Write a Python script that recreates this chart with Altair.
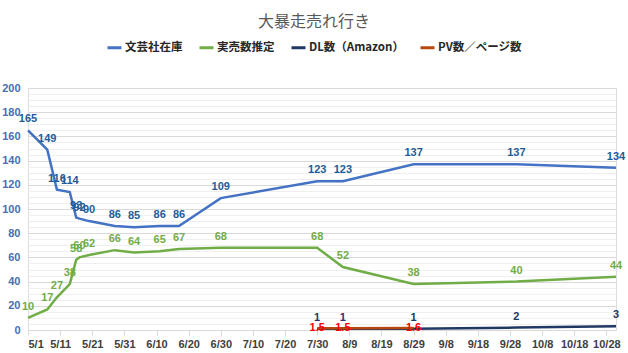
import altair as alt
import pandas as pd

# ---- data ----
dates_main = ["2019-05-01", "2019-05-07", "2019-05-10", "2019-05-14", "2019-05-16",
              "2019-05-17", "2019-05-20", "2019-05-28", "2019-06-03", "2019-06-11",
              "2019-06-17", "2019-06-30", "2019-07-30", "2019-08-07", "2019-08-29",
              "2019-09-30", "2019-10-31"]
stock = [165, 149, 116, 114, 93, 92, 90, 86, 85, 86, 86, 109, 123, 123, 137, 137, 134]
sales = [10, 17, 27, 38, 58, 60, 62, 66, 64, 65, 67, 68, 68, 52, 38, 40, 44]

dates_dl = ["2019-07-30", "2019-08-07", "2019-08-29", "2019-09-30", "2019-10-31"]
dl = [1, 1, 1, 2, 3]

dates_pv = ["2019-07-30", "2019-08-07", "2019-08-29"]
pv = [1.5, 1.5, 1.6]

series_names = ["文芸社在庫", "実売数推定", "DL数（Amazon）", "PV数／ページ数"]
line_colors = ["#4472C4", "#70AD47", "#203864", "#B5470F"]
label_colors = ["#1F5C99", "#70AD47", "#203864", "#FF0000"]

x_tick_days = [(5, 1), (5, 11), (5, 21), (5, 31), (6, 10), (6, 20), (6, 30), (7, 10),
               (7, 20), (7, 30), (8, 9), (8, 19), (8, 29), (9, 8), (9, 18), (9, 28),
               (10, 8), (10, 18), (10, 28)]

# ---- build table ----
rows = []
for dates, vals, name in [(dates_main, stock, series_names[0]),
                          (dates_main, sales, series_names[1]),
                          (dates_dl, dl, series_names[2]),
                          (dates_pv, pv, series_names[3])]:
    for d, v in zip(dates, vals):
        lab = str(v) if isinstance(v, float) else str(int(v))
        rows.append({"date": d, "value": v, "series": name, "label": lab})
df = pd.DataFrame(rows)

def dt(m, d):
    return alt.DateTime(year=2019, month=m, date=d, utc=True)

FONT = "Liberation Sans"
JFONT = "Noto Sans CJK JP"

x_enc = alt.X(
    "date:T",
    scale=alt.Scale(type="utc", domain=[dt(5, 1), dt(10, 31)]),
    axis=alt.Axis(
        values=[dt(m, d) for m, d in x_tick_days],
        labelExpr="utcFormat(datum.value, '%-m/%-d')", labelOverlap=False,
        grid=False, domainColor="#D9D9D9", tickColor="#D9D9D9", tickSize=5,
        labelColor="#404040", labelFont=FONT, labelFontSize=11, labelFontWeight="bold",
        labelPadding=3, title=None,
    ),
)
y_enc = alt.Y(
    "value:Q",
    scale=alt.Scale(domain=[0, 200], nice=False),
    axis=alt.Axis(
        values=list(range(0, 201, 5)),
        labelExpr="datum.value % 20 === 0 ? datum.label : ''",
        ticks=False, domain=False,
        gridColor={"condition": {"test": "datum.value % 20 === 0", "value": "#D9D9D9"},
                   "value": "#EFEFEF"},
        labelColor="#4A6DB0", labelFont=FONT, labelFontSize=11, labelFontWeight="bold",
        labelPadding=8, title=None,
    ),
)

base = alt.Chart(df)

lines = base.mark_line(strokeWidth=2.5).encode(
    x=x_enc, y=y_enc,
    color=alt.Color(
        "series:N",
        scale=alt.Scale(domain=series_names, range=line_colors),
        sort=series_names,
        legend=alt.Legend(
            orient="none", legendX=78, legendY=-49, direction="horizontal", title=None,
            symbolType="stroke", symbolStrokeWidth=3, symbolSize=196,
            labelFont=JFONT, labelFontSize=11.5, labelFontWeight="bold",
            labelColor="#262626", columnPadding=10, labelOffset=2,
        ),
    ),
)

layers = [lines]
for name, col in zip(series_names, label_colors):
    dy = 0 if name == series_names[3] else -11
    layers.append(
        base.transform_filter(alt.datum.series == name)
        .mark_text(dy=dy, color=col, font=FONT, fontSize=11, fontWeight="bold",
                   baseline="middle")
        .encode(x=x_enc, y=y_enc, text="label:N")
    )

chart = (
    alt.layer(*layers)
    .properties(
        width=588, height=242,
        title=alt.TitleParams("大暴走売れ行き", font=JFONT, fontSize=16, fontWeight="normal",
                              color="#595959", anchor="middle", frame="group",
                              offset=9, dx=-8),
        autosize=alt.AutoSizeParams(type="none"),
        padding={"left": 28, "top": 88, "right": 12, "bottom": 23},
    )
    .configure_view(stroke=None)
    .configure(background="white")
)

chart.save("out.html", embed_options={"renderer": "svg", "actions": False})
